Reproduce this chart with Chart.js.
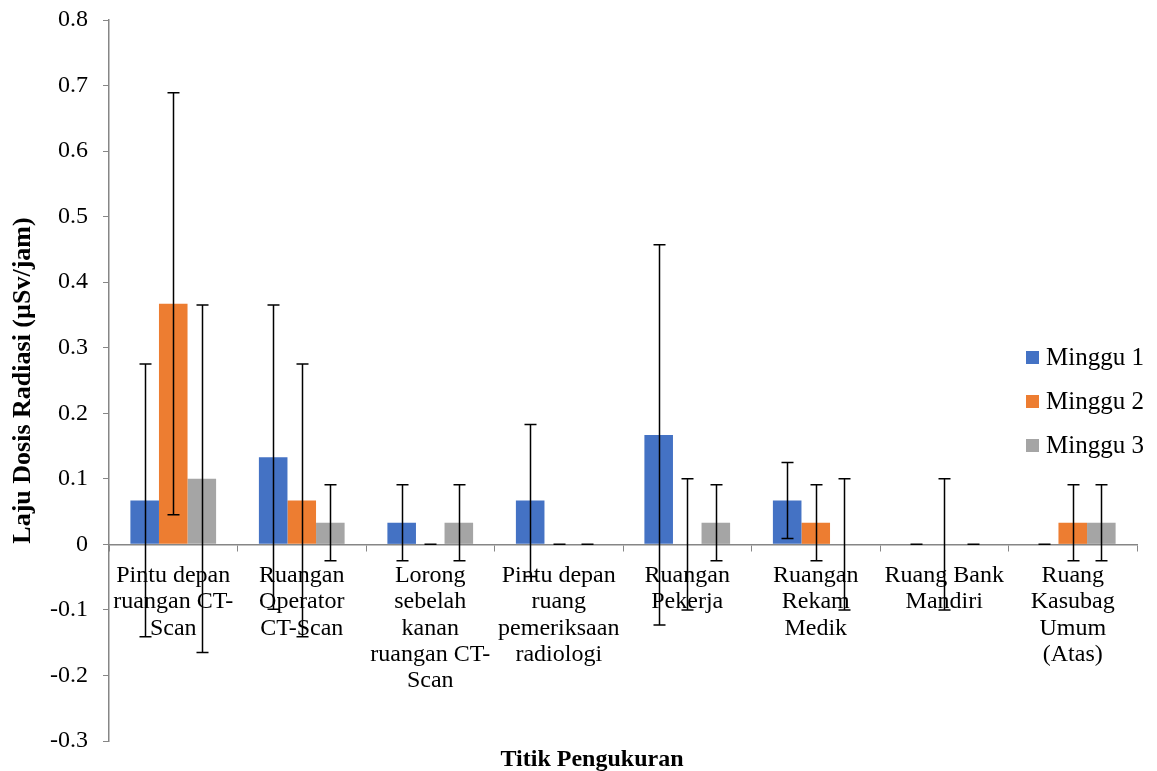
<!DOCTYPE html>
<html>
<head>
<meta charset="utf-8">
<script src="https://cdn.jsdelivr.net/npm/chart.js@4.4.0/dist/chart.umd.min.js"></script>
<style>
  html, body { margin: 0; padding: 0; background: #fff; }
  #wrap { width: 1157px; height: 771px; position: relative; }
</style>
</head>
<body>
<div id="wrap"><canvas id="chart"></canvas></div>
<script>
const categories = [
  ['Pintu depan', 'ruangan CT-', 'Scan'],
  ['Ruangan', 'Operator', 'CT-Scan'],
  ['Lorong', 'sebelah', 'kanan', 'ruangan CT-', 'Scan'],
  ['Pintu depan', 'ruang', 'pemeriksaan', 'radiologi'],
  ['Ruangan', 'Pekerja'],
  ['Ruangan', 'Rekam', 'Medik'],
  ['Ruang Bank', 'Mandiri'],
  ['Ruang', 'Kasubag', 'Umum', '(Atas)']
];
const seriesNames = ['Minggu 1', 'Minggu 2', 'Minggu 3'];
const minggu1 = [0.067, 0.133, 0.033, 0.067, 0.167, 0.067, 0, 0];
const minggu2 = [0.367, 0.067, 0, 0, 0, 0.033, 0, 0.033];
const minggu3 = [0.1, 0.033, 0.033, 0, 0.033, 0, 0, 0.033];
const err1 = [0.208, 0.232, 0.058, 0.116, 0.29, 0.058, 0, 0];
const err2 = [0.322, 0.208, 0, 0, 0.1, 0.058, 0.1, 0.058];
const err3 = [0.265, 0.058, 0.058, 0, 0.058, 0.1, 0, 0.058];
const colors = ['#4472C4', '#ED7D31', '#A5A5A5'];
const xTitle = 'Titik Pengukuran';

const serif = '"Liberation Serif", "Times New Roman", serif';

// error bars with caps, drawn on top of the bars
const errorBars = {
  id: 'errorBars',
  afterDatasetsDraw(chart) {
    const ctx = chart.ctx;
    const y = chart.scales.y;
    ctx.save();
    ctx.strokeStyle = '#000';
    ctx.lineWidth = 1.5;
    chart.data.datasets.forEach((ds, i) => {
      const meta = chart.getDatasetMeta(i);
      meta.data.forEach((bar, j) => {
        const v = ds.data[j], e = ds.errors[j];
        const x = Math.round(bar.x) + 0.5;
        const top = y.getPixelForValue(v + e);
        const bot = y.getPixelForValue(v - e);
        ctx.beginPath();
        ctx.moveTo(x, top); ctx.lineTo(x, bot);
        ctx.moveTo(x - 6, top); ctx.lineTo(x + 6, top);
        ctx.moveTo(x - 6, bot); ctx.lineTo(x + 6, bot);
        ctx.stroke();
      });
    });
    ctx.restore();
  }
};

// legend inside the plot on the right, and the x title under the plot
const sideLegend = {
  id: 'sideLegend',
  afterDraw(chart) {
    const ctx = chart.ctx;
    ctx.save();
    ctx.font = '25px ' + serif;
    ctx.textBaseline = 'middle';
    chart.data.datasets.forEach((ds, i) => {
      const cy = 357 + i * 44;
      ctx.fillStyle = ds.backgroundColor;
      ctx.fillRect(1026, cy - 6, 13, 13);
      ctx.fillStyle = '#000';
      ctx.fillText(ds.label, 1046, cy + 1);
    });
    ctx.font = 'bold 24px ' + serif;
    ctx.textAlign = 'center';
    ctx.textBaseline = 'alphabetic';
    ctx.fillText(xTitle, 592, 766);
    ctx.restore();
  }
};

const data = {
  labels: categories,
  datasets: [
    { label: seriesNames[0], data: minggu1, errors: err1, backgroundColor: colors[0] },
    { label: seriesNames[1], data: minggu2, errors: err2, backgroundColor: colors[1] },
    { label: seriesNames[2], data: minggu3, errors: err3, backgroundColor: colors[2] }
  ]
};

new Chart(document.getElementById('chart'), {
  type: 'bar',
  data: data,
  plugins: [errorBars, sideLegend],
  options: {
    responsive: true,
    maintainAspectRatio: false,
    animation: false,
    layout: { padding: { top: 20, right: 20, left: 0, bottom: 30 } },
    datasets: { bar: { categoryPercentage: 0.667, barPercentage: 1.0 } },
    plugins: {
      legend: { display: false },
      tooltip: { enabled: false },
      title: { display: false }
    },
    scales: {
      x: {
        position: { y: 0 },
        grid: { display: true, drawOnChartArea: false, tickLength: 6, color: '#868686', offset: true },
        border: { color: '#868686', width: 1.5 },
        ticks: {
          color: '#000',
          maxRotation: 0,
          autoSkip: false,
          padding: 12,
          font: { family: serif, size: 24, lineHeight: 1.1 }
        }
      },
      y: {
        min: -0.3,
        max: 0.8,
        afterFit(scale) {
          scale.width = 109;
          scale.paddingTop = 0;
          scale.paddingBottom = 0;
        },
        grid: { display: true, drawOnChartArea: false, tickLength: 6, color: '#868686' },
        border: { color: '#868686', width: 1.5 },
        ticks: {
          stepSize: 0.1,
          color: '#000',
          padding: 15,
          font: { family: serif, size: 24 },
          callback: (v) => Math.abs(v) < 1e-9 ? '0' : v.toFixed(1)
        },
        title: {
          display: true,
          text: 'Laju Dosis Radiasi (µSv/jam)',
          color: '#000',
          font: { family: serif, size: 26, weight: 'bold' },
          padding: { top: 8, bottom: 0 }
        }
      }
    }
  }
});
</script>
</body>
</html>
